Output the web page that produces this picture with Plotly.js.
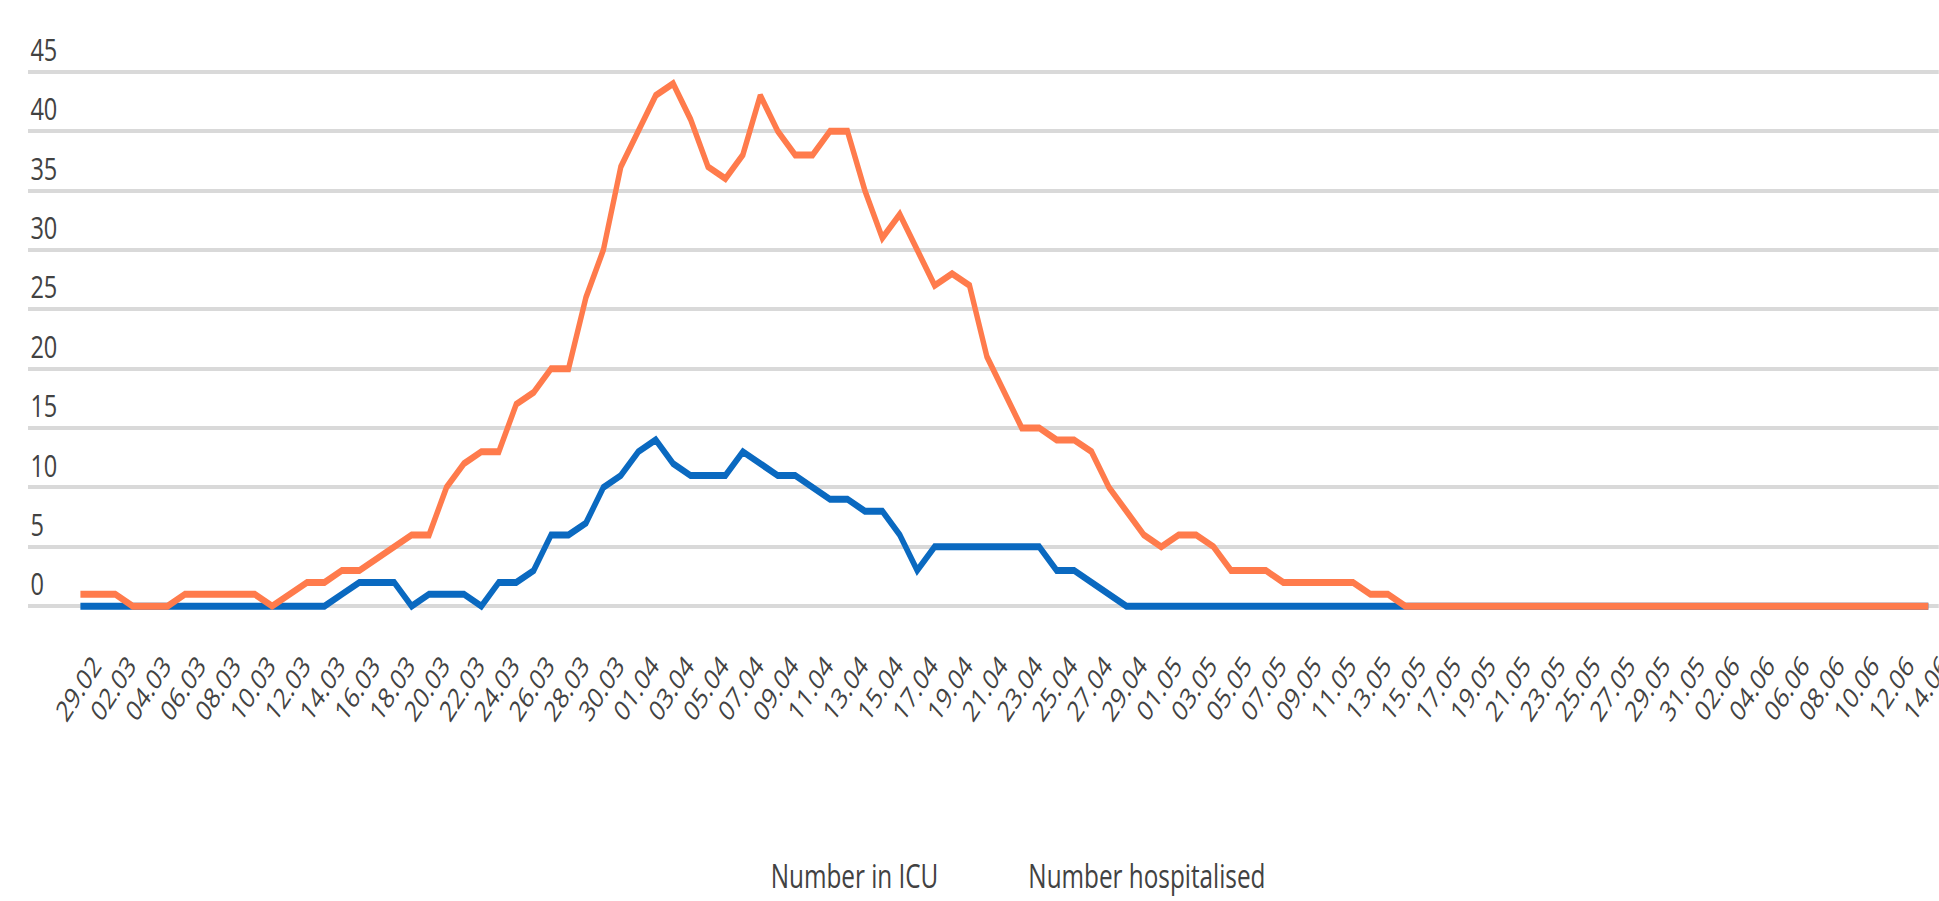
<!DOCTYPE html>
<html>
<head>
<meta charset="utf-8">
<script src="https://cdn.plot.ly/plotly-3.0.1.min.js"></script>
<style>
html, body { margin:0; padding:0; background:#fff; width:1939px; height:901px; overflow:hidden; }
#wrap { width:1939px; height:901px; overflow:hidden; }
#chart { width:2551px; height:901px; transform:scaleX(0.76); transform-origin:0 0; }
</style>
</head>
<body>
<div id="wrap"><div id="chart"></div></div>
<script>
// Dates (29.02 – 14.06)
const dates = [
  "29.02",
  "01.03","02.03","03.03","04.03","05.03","06.03","07.03","08.03","09.03","10.03",
  "11.03","12.03","13.03","14.03","15.03","16.03","17.03","18.03","19.03","20.03",
  "21.03","22.03","23.03","24.03","25.03","26.03","27.03","28.03","29.03","30.03","31.03",
  "01.04","02.04","03.04","04.04","05.04","06.04","07.04","08.04","09.04","10.04",
  "11.04","12.04","13.04","14.04","15.04","16.04","17.04","18.04","19.04","20.04",
  "21.04","22.04","23.04","24.04","25.04","26.04","27.04","28.04","29.04","30.04",
  "01.05","02.05","03.05","04.05","05.05","06.05","07.05","08.05","09.05","10.05",
  "11.05","12.05","13.05","14.05","15.05","16.05","17.05","18.05","19.05","20.05",
  "21.05","22.05","23.05","24.05","25.05","26.05","27.05","28.05","29.05","30.05","31.05",
  "01.06","02.06","03.06","04.06","05.06","06.06","07.06","08.06","09.06","10.06",
  "11.06","12.06","13.06","14.06"
];

// Number in ICU
const icu = [
  0,                                  // 29.02
  0,0,0,0,0,0,0,0,0,0,                // 01-10.03
  0,0,0,0,1,2,2,2,0,1,                // 11-20.03
  1,1,0,2,2,3,6,6,7,10,11,            // 21-31.03
  13,14,12,11,11,11,13,12,11,11,      // 01-10.04
  10,9,9,8,8,6,3,5,5,5,               // 11-20.04
  5,5,5,5,3,3,2,1,0,0,                // 21-30.04
  0,0,0,0,0,0,0,0,0,0,                // 01-10.05
  0,0,0,0,0,0,0,0,0,0,                // 11-20.05
  0,0,0,0,0,0,0,0,0,0,0,              // 21-31.05
  0,0,0,0,0,0,0,0,0,0,                // 01-10.06
  0,0,0,0                             // 11-14.06
];

// Number hospitalised
const hospitalised = [
  1,                                  // 29.02
  1,1,0,0,0,1,1,1,1,1,                // 01-10.03
  0,1,2,2,3,3,4,5,6,6,                // 11-20.03
  10,12,13,13,17,18,20,20,26,30,37,   // 21-31.03
  40,43,44,41,37,36,38,43,40,38,      // 01-10.04
  38,40,40,35,31,33,30,27,28,27,      // 11-20.04
  21,18,15,15,14,14,13,10,8,6,        // 21-30.04
  5,6,6,5,3,3,3,2,2,2,                // 01-10.05
  2,2,1,1,0,0,0,0,0,0,                // 11-20.05
  0,0,0,0,0,0,0,0,0,0,0,              // 21-31.05
  0,0,0,0,0,0,0,0,0,0,                // 01-10.06
  0,0,0,0                             // 11-14.06
];

const tickLabels = dates.filter((d, i) => i % 2 === 0);
const seriesNames = ["Number in ICU", "Number hospitalised"];
const colors = ["#0a69c0", "#ff7b4c"];

const FONT = "'Open Sans', 'Noto Sans', sans-serif";
const TXT = "#424242";

const traces = [
  { x: dates, y: icu, type: "scatter", mode: "lines", name: seriesNames[0],
    line: { color: colors[0], width: 7, shape: "linear" }, showlegend: false, hoverinfo: "x+y" },
  { x: dates, y: hospitalised, type: "scatter", mode: "lines", name: seriesNames[1],
    line: { color: colors[1], width: 7, shape: "linear" }, showlegend: false, hoverinfo: "x+y" }
];

const layout = {
  width: 2551, height: 901,
  margin: { l: 37, r: 0, t: 48, b: 283, pad: 0 },
  paper_bgcolor: "#ffffff", plot_bgcolor: "#ffffff",
  font: { family: FONT, color: TXT },
  showlegend: false,
  xaxis: {
    type: "category",
    range: [-3, 106.6],
    tickmode: "array", tickvals: tickLabels, ticktext: tickLabels,
    tickangle: -50,
    ticklabelstandoff: 24,
    ticklabelshift: 18,
    tickfont: { family: FONT, size: 29, color: TXT },
    showgrid: false, zeroline: false, showline: false, ticks: "",
    fixedrange: true
  },
  yaxis: {
    range: [-1, 47],
    tick0: 0, dtick: 5,
    showgrid: true, gridcolor: "#d9d9d9", gridwidth: 4,
    zeroline: false, showline: false, ticks: "",
    ticklabelposition: "inside top",
    ticklabeloverflow: "allow",
    tickfont: { family: FONT, size: 31, color: TXT },
    fixedrange: true
  },
  annotations: [
    { text: seriesNames[0], xref: "paper", yref: "paper", x: 0.388, y: -0.4526,
      xanchor: "left", yanchor: "middle", showarrow: false,
      font: { family: FONT, size: 32, color: TXT } },
    { text: seriesNames[1], xref: "paper", yref: "paper", x: 0.5227, y: -0.4526,
      xanchor: "left", yanchor: "middle", showarrow: false,
      font: { family: FONT, size: 32, color: TXT } }
  ]
};

Plotly.newPlot("chart", traces, layout, { displayModeBar: false, staticPlot: true });
</script>
</body>
</html>
